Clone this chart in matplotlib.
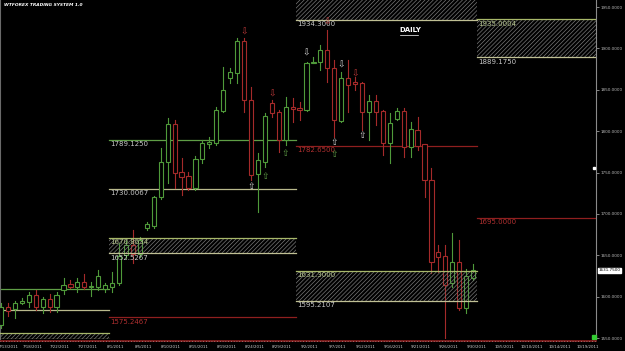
import matplotlib
matplotlib.use("Agg")
import matplotlib.pyplot as plt
from matplotlib.patches import Rectangle
from matplotlib.lines import Line2D

# daily OHLC, one bar per trading day (Sunday bars included), 7/13/2011 .. 9/30/2011
opens = [1566.0, 1587.7, 1585.3, 1592.5, 1593.7, 1602.2, 1587.7, 1597.4, 1587.7, 1608.2,
         1615.5, 1611.8, 1617.9, 1611.8, 1611.8, 1609.4, 1611.8, 1616.7, 1650.0, 1662.0,
         1652.0, 1683.1, 1685.5, 1720.5, 1762.8, 1808.7, 1750.7, 1745.9, 1731.4, 1766.4,
         1784.5, 1785.8, 1824.4, 1864.3, 1870.3, 1908.9, 1837.7, 1748.3, 1762.8, 1834.1,
         1823.2, 1789.4, 1829.2, 1828.0, 1825.6, 1883.0, 1883.6, 1898.1, 1876.3, 1812.3,
         1864.3, 1859.4, 1858.2, 1823.2, 1836.5, 1824.4, 1785.8, 1814.7, 1824.4, 1780.9,
         1801.5, 1784.5, 1741.1, 1654.1, 1649.3, 1616.7, 1642.0, 1586.5, 1622.7]
highs = [1592.5, 1592.5, 1595.0, 1598.6, 1605.8, 1608.2, 1599.8, 1603.4, 1605.8, 1622.7,
         1620.3, 1622.7, 1627.5, 1617.9, 1632.4, 1616.7, 1630.0, 1665.0, 1668.0, 1680.7,
         1672.0, 1690.3, 1721.7, 1779.7, 1816.0, 1813.5, 1767.6, 1750.7, 1770.0, 1789.4,
         1793.0, 1829.2, 1877.5, 1876.3, 1912.6, 1912.6, 1853.4, 1773.7, 1822.0, 1837.7,
         1825.6, 1841.3, 1840.1, 1835.0, 1883.6, 1890.0, 1904.1, 1922.2, 1886.0, 1871.5,
         1886.0, 1865.5, 1859.4, 1843.7, 1843.7, 1825.6, 1822.0, 1828.0, 1828.0, 1811.1,
         1817.2, 1785.0, 1755.6, 1662.6, 1662.6, 1677.1, 1668.6, 1633.6, 1639.6]
lows = [1562.3, 1576.9, 1574.4, 1591.0, 1587.7, 1584.1, 1580.4, 1581.6, 1581.6, 1603.4,
        1610.6, 1605.8, 1609.4, 1601.0, 1608.2, 1605.8, 1605.8, 1614.3, 1647.0, 1640.8,
        1648.0, 1680.7, 1683.0, 1718.0, 1737.4, 1731.4, 1723.0, 1729.0, 1729.0, 1761.6,
        1779.7, 1783.3, 1823.0, 1858.2, 1858.2, 1823.2, 1741.1, 1702.4, 1756.8, 1817.2,
        1774.9, 1783.3, 1811.1, 1813.5, 1824.0, 1882.0, 1873.9, 1859.4, 1793.0, 1811.1,
        1823.2, 1849.8, 1801.5, 1789.4, 1807.5, 1771.3, 1761.6, 1813.5, 1768.8, 1768.8,
        1777.3, 1720.5, 1628.8, 1630.0, 1546.0, 1611.8, 1584.1, 1580.4, 1620.0]
closes = [1587.7, 1582.9, 1592.5, 1595.0, 1602.2, 1587.7, 1597.4, 1587.7, 1602.2, 1614.3,
          1611.8, 1617.9, 1611.8, 1613.0, 1625.1, 1614.3, 1616.7, 1649.0, 1662.0, 1652.0,
          1668.0, 1687.9, 1720.5, 1762.8, 1808.7, 1749.5, 1744.7, 1731.4, 1766.4, 1785.8,
          1787.0, 1825.6, 1849.8, 1871.5, 1908.9, 1837.7, 1747.1, 1765.2, 1818.4, 1822.0,
          1789.4, 1829.2, 1826.8, 1825.6, 1882.4, 1884.0, 1898.1, 1876.3, 1813.5, 1864.3,
          1855.8, 1857.0, 1823.2, 1836.5, 1823.2, 1785.8, 1809.9, 1824.4, 1780.9, 1802.7,
          1782.1, 1741.1, 1642.0, 1648.1, 1614.3, 1642.0, 1586.5, 1625.1, 1631.75]

date_bars = list(range(0, 85, 4))
date_labels = ["7/13/2011", "7/18/2011", "7/22/2011", "7/27/2011", "8/1/2011", "8/5/2011",
               "8/10/2011", "8/15/2011", "8/19/2011", "8/24/2011", "8/29/2011", "9/2/2011",
               "9/7/2011", "9/12/2011", "9/16/2011", "9/21/2011", "9/26/2011", "9/30/2011",
               "10/5/2011", "10/10/2011", "10/14/2011", "10/19/2011"]

# hatched supply / demand zones: start bar, end bar, low, high, top label, bottom label
zone_start = [42.5, 68.5, 15.5, 42.5, -1.0]
zone_end = [68.5, 86.0, 42.5, 68.5, 15.5]
zone_low = [1934.3, 1889.175, 1652.5267, 1595.2107, 1549.0]
zone_high = [1975.0, 1935.0004, 1670.8634, 1631.3, 1556.0]
zone_top_text = ["", "1935.0004", "1670.8634", "1631.3000", ""]
zone_low_text = ["1934.3000", "1889.1750", "1652.5267", "1595.2107", ""]

# single levels: start bar, end bar, price, label, kind
level_start = [15.5, 15.5, 15.5, 42.5, 68.5, -1.0, -1.0]
level_end = [42.5, 42.5, 42.5, 68.5, 86.0, 15.5, 15.5]
level_price = [1789.125, 1730.0067, 1575.2467, 1782.65, 1695.0, 1609.4, 1584.0]
level_text = ["1789.1250", "1730.0067", "1575.2467", "1782.6500", "1695.0000", "", ""]
level_kind = ["green", "tan", "red", "red", "red", "green", "tan"]

# arrow signals
sig_bar = [35, 39, 44, 47, 49, 51, 36, 38, 41, 48, 48, 52]
sig_price = [1920, 1845, 1894, 1932, 1880, 1869, 1733, 1745, 1773, 1786, 1772, 1795]
sig_dir = ["down", "down", "down", "down", "down", "down", "up", "up", "up", "up", "up", "up"]
sig_kind = ["red", "red", "white", "red", "white", "red", "white", "green", "green", "white", "green", "white"]

last_price = 1631.75

colors = {"green": "#5f9e46", "tan": "#b9b98c", "red": "#8f1f1f", "white": "#d8d8d8"}
candle_up = "#4f9a3a"
candle_down = "#a52a2a"
label_col = {"green": "#c8c8c8", "tan": "#c8c8c8", "red": "#b03030"}

plt.rcParams["hatch.linewidth"] = 0.5

fig = plt.figure(figsize=(6.25, 3.51), dpi=100, facecolor="black")
ax = fig.add_axes([0.0, 12 / 351, 596 / 625, 339 / 351])
ax.set_facecolor("black")
ax.set_xlim(-0.15, 85.7)
ax.set_ylim(1549.0, 1958.5)

# candles (hollow bodies)
for i, (o, h, l, c) in enumerate(zip(opens, highs, lows, closes)):
    col = candle_up if c >= o else candle_down
    ax.plot([i, i], [l, h], color=col, lw=0.8, zorder=3)
    ax.add_patch(Rectangle((i - 0.3, min(o, c)), 0.6, max(abs(c - o), 0.4),
                           facecolor="black", edgecolor=col, lw=0.8, zorder=4))

# zones
for x0, x1, lo, hi, tt, bt in zip(zone_start, zone_end, zone_low, zone_high,
                                  zone_top_text, zone_low_text):
    ax.add_patch(Rectangle((x0, lo), x1 - x0, hi - lo, facecolor="none",
                           edgecolor="#787878", hatch="////////", lw=0, zorder=5))
    ax.plot([x0, x1], [hi, hi], color="#a8b86a", lw=0.9, zorder=6)
    ax.plot([x0, x1], [lo, lo], color="#c0c094", lw=0.9, zorder=6)
    if tt:
        ax.text(x0 + 0.2, hi - 1.5, tt, color="#b8c890", fontsize=5, va="top", zorder=7)
    if bt:
        ax.text(x0 + 0.2, lo - 1.5, bt, color="#c8c8c8", fontsize=5, va="top", zorder=7)

# levels
for x0, x1, p, t, k in zip(level_start, level_end, level_price, level_text, level_kind):
    ax.plot([x0, x1], [p, p], color=colors[k], lw=0.9, zorder=2)
    if t:
        ax.text(x0 + 0.2, p - 1.5, t, color=label_col[k], fontsize=5, va="top", zorder=7)

# arrow signals
for b, p, d, k in zip(sig_bar, sig_price, sig_dir, sig_kind):
    ax.text(b, p, "\u21e9" if d == "down" else "\u21e7", color=colors[k] if k != "red" else "#c03a3a",
            fontsize=6.5, ha="center", va="center", zorder=8)

# titles
fig.text(4 / 625, 1 - 5 / 351, "WTFOREX TRADING SYSTEM 1.0", color="white", fontsize=3.2,
         fontweight="bold", fontstyle="italic", va="center", ha="left")
ax.text(57.4, 1922.5, "DAILY", color="white", fontsize=5, fontweight="bold", ha="left", va="center")
ax.plot([57.4, 60.0], [1916.8, 1916.8], color="white", lw=0.5)

# axes styling
for s in ["top", "bottom"]:
    ax.spines[s].set_visible(False)
ax.spines["left"].set_color("#6a6a6a")
ax.spines["right"].set_color("#8a8a8a")
ax.yaxis.tick_right()
yt = list(range(1550, 1951, 50))
ax.set_yticks(yt, [f"{v:.4f}" for v in yt])
ax.tick_params(axis="y", colors="#bbbbbb", labelsize=3, length=2, width=0.5, pad=1.5)
ax.set_xticks([max(b + 0.5, 1.1) for b in date_bars], date_labels)
ax.tick_params(axis="x", colors="#cfcfcf", labelsize=2.8, length=0, pad=4)

# bottom separator
fig.add_artist(Line2D([0, 596 / 625], [1 - 341 / 351] * 2, color="#8f1f1f", lw=1.2))
fig.add_artist(Line2D([0, 596 / 625], [1 - 341 / 351] * 2, color="#bbbbbb", lw=0.5,
                      linestyle=(0, (1, 3))))

# last price tag
ax.annotate(f"{last_price:.4f}", xy=(1.004, last_price), xycoords=("axes fraction", "data"),
            fontsize=3, color="black", va="center", ha="left",
            bbox=dict(boxstyle="square,pad=0.2", fc="white", ec="white"))
ax.plot([85.35], [1552.0], marker="s", ms=2.5, color="#33cc33", clip_on=False, zorder=9)
ax.plot([85.35], [1755.6], marker="s", ms=2, color="white", clip_on=False, zorder=9)

plt.savefig("out.png", dpi=100, facecolor="black")
